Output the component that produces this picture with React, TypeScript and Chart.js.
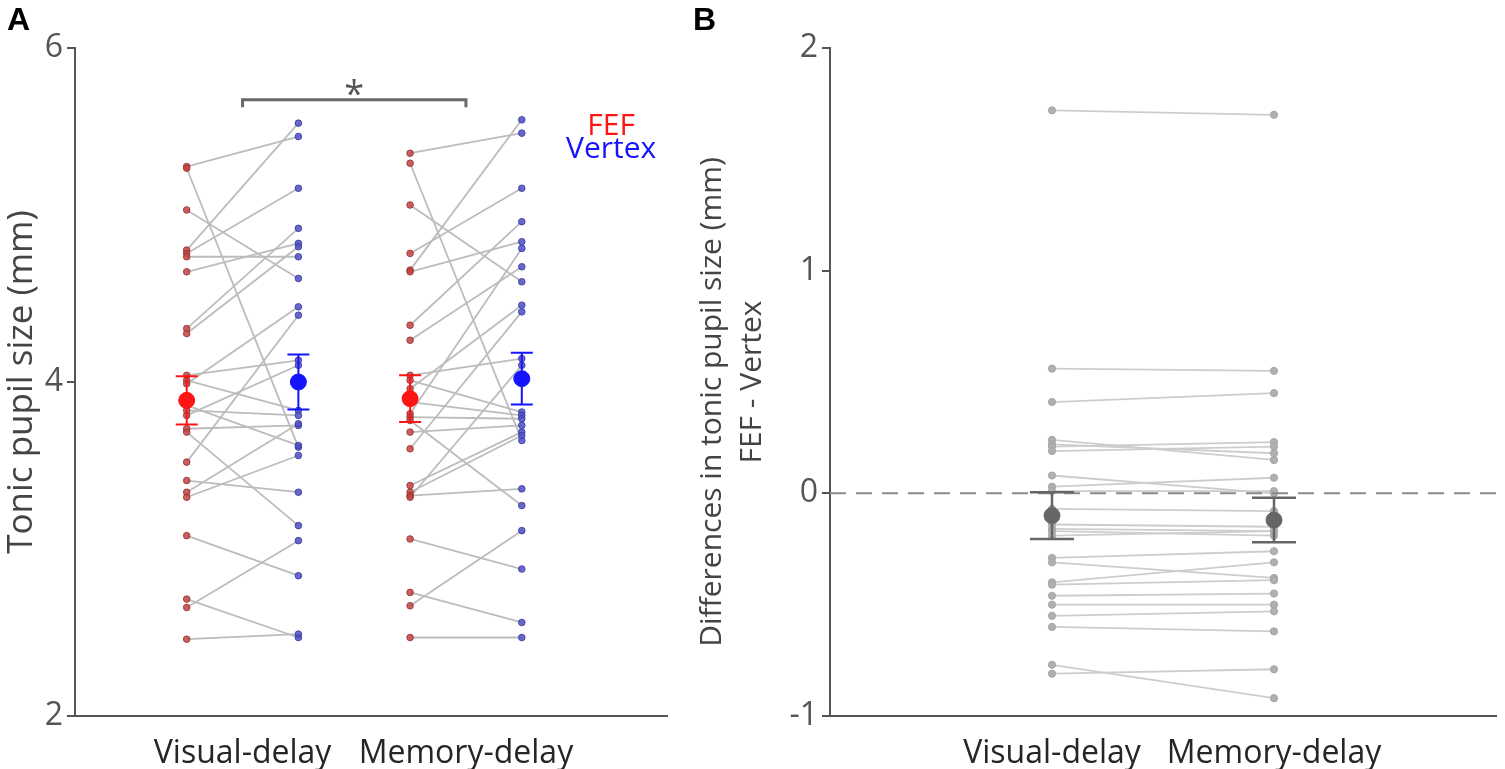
import React, { useEffect, useRef } from 'react';
import { Chart, registerables } from 'chart.js';
Chart.register(...registerables);

const FONT = '"Open Sans", "Noto Sans", sans-serif';

// ---------- Panel A data ----------
const conditions = ['Visual-delay', 'Memory-delay'];
const siteNames = ['FEF', 'Vertex'];
const fefVisual = [5.29, 5.28, 5.03, 4.79, 4.77, 4.75, 4.66, 4.32, 4.29, 4.04, 4.01, 3.99, 3.86, 3.83, 3.8, 3.72, 3.7, 3.52, 3.41, 3.34, 3.31, 3.08, 2.7, 2.65, 2.46];
const vertexVisual = [5.47, 3.61, 4.62, 5.55, 5.16, 4.75, 4.83, 4.92, 4.81, 4.13, 3.83, 4.45, 3.62, 3.8, 4.1, 3.74, 3.14, 4.4, 3.34, 3.75, 3.56, 2.84, 2.47, 3.05, 2.49];
const fefMemory = [5.37, 5.31, 5.06, 4.77, 4.67, 4.66, 4.34, 4.25, 4.04, 4.01, 3.96, 3.88, 3.81, 3.79, 3.77, 3.7, 3.6, 3.38, 3.34, 3.32, 3.31, 3.06, 2.74, 2.66, 2.47];
const vertexMemory = [5.49, 3.65, 4.6, 5.16, 5.57, 4.84, 4.96, 4.69, 4.14, 3.82, 4.46, 3.8, 4.8, 3.78, 3.26, 3.74, 4.42, 3.7, 3.68, 3.36, 4.1, 2.88, 2.56, 3.11, 2.47];
// order: FEF-visual, Vertex-visual, FEF-memory, Vertex-memory
const groupMeans = [3.89, 4.0, 3.9, 4.02];
const groupSems = [0.145, 0.165, 0.14, 0.155];
const panelATicks = [2, 4, 6];
const panelATitle = 'Tonic pupil size (mm)';
const sigMark = '*';
const sigLevel = 5.69;

// ---------- Panel B data ----------
const diffVisual = [1.72, 0.56, 0.41, 0.24, 0.22, 0.21, 0.19, 0.08, 0.03, 0.01, -0.07, -0.14, -0.16, -0.17, -0.19, -0.29, -0.31, -0.4, -0.41, -0.46, -0.5, -0.55, -0.6, -0.77, -0.81];
const diffMemory = [1.7, 0.55, 0.45, 0.15, 0.18, 0.23, 0.21, 0.0, 0.07, 0.01, -0.08, -0.15, -0.17, -0.19, -0.17, -0.26, -0.38, -0.31, -0.39, -0.45, -0.5, -0.53, -0.62, -0.92, -0.79];
const diffMeans = [-0.1, -0.12];
const diffSems = [0.105, 0.1];
const panelBTicks = [-1, 0, 1, 2];
const panelBTitle = ['Differences in tonic pupil size (mm)', 'FEF - Vertex'];

// ---------- layout / style config ----------
const groupX = [1, 2, 3, 4];
const condLabelX = [1.5, 3.5];
const diffX = [1, 2];
const RED = '#ff1414';
const BLUE = '#1414ff';
const AXIS = '#555555';

function errorBars(id: string, xs: number[], means: number[], sems: number[], colors: string[], cap: number, width: number) {
  return {
    id,
    afterDatasetsDraw(chart: any) {
      const { ctx, scales } = chart;
      const x = scales.x, y = scales.y;
      ctx.save();
      xs.forEach((xv, i) => {
        const px = x.getPixelForValue(xv);
        const top = y.getPixelForValue(means[i] + sems[i]);
        const bot = y.getPixelForValue(means[i] - sems[i]);
        ctx.strokeStyle = colors[i];
        ctx.lineWidth = width;
        ctx.beginPath();
        ctx.moveTo(px, top); ctx.lineTo(px, bot);
        ctx.moveTo(px - cap, top); ctx.lineTo(px + cap, top);
        ctx.moveTo(px - cap, bot); ctx.lineTo(px + cap, bot);
        ctx.stroke();
      });
      ctx.restore();
    },
  };
}

function pairLines(xa: number, xb: number, a: number[], b: number[], color: string, width: number) {
  return a.map((v, i) => ({
    type: 'line',
    data: [{ x: xa, y: v }, { x: xb, y: b[i] }],
    borderColor: color,
    borderWidth: width,
    pointRadius: 0,
    showLine: true,
    order: 10,
  }));
}

function yAxis(min: number, max: number, ticks: number[], width: number, title: any) {
  return {
    type: 'linear',
    min, max,
    afterBuildTicks: (s: any) => { s.ticks = ticks.map((v) => ({ value: v })); },
    afterFit: (s: any) => { s.width = width; },
    ticks: { font: { family: FONT, size: 32 }, color: '#555', padding: 4 },
    grid: { display: true, drawOnChartArea: false, drawTicks: true, tickLength: 8, color: AXIS, lineWidth: 2 },
    border: { display: true, color: AXIS, width: 2 },
    title,
  };
}

function xAxis(min: number, max: number, pos: number[], labels: string[]) {
  return {
    type: 'linear',
    min, max,
    afterBuildTicks: (s: any) => { s.ticks = pos.map((v) => ({ value: v })); },
    afterFit: (s: any) => { s.height = 53; },
    ticks: {
      font: { family: FONT, size: 32 }, color: '#262626', padding: 11,
      callback: (_v: any, i: number) => labels[i],
    },
    grid: { display: false },
    border: { display: true, color: AXIS, width: 2 },
  };
}

function buildA(): any {
  const datasets: any[] = [
    ...pairLines(groupX[0], groupX[1], fefVisual, vertexVisual, '#bcbcbc', 1.8),
    ...pairLines(groupX[2], groupX[3], fefMemory, vertexMemory, '#bcbcbc', 1.8),
    {
      label: siteNames[0],
      data: [...fefVisual.map((v) => ({ x: groupX[0], y: v })), ...fefMemory.map((v) => ({ x: groupX[2], y: v }))],
      pointRadius: 3.3, pointBackgroundColor: 'rgba(190,70,70,0.85)', pointBorderColor: 'rgba(160,50,50,0.9)', pointBorderWidth: 1,
      showLine: false, order: 3,
    },
    {
      label: siteNames[1],
      data: [...vertexVisual.map((v) => ({ x: groupX[1], y: v })), ...vertexMemory.map((v) => ({ x: groupX[3], y: v }))],
      pointRadius: 3.3, pointBackgroundColor: 'rgba(80,80,195,0.85)', pointBorderColor: 'rgba(60,60,170,0.9)', pointBorderWidth: 1,
      showLine: false, order: 3,
    },
    {
      label: 'means',
      data: groupMeans.map((m, i) => ({ x: groupX[i], y: m })),
      pointRadius: 8,
      pointBackgroundColor: [RED, BLUE, RED, BLUE],
      pointBorderColor: [RED, BLUE, RED, BLUE],
      showLine: false, order: 0,
    },
    {
      type: 'line',
      label: 'sig',
      data: [
        { x: condLabelX[0], y: sigLevel - 0.045 },
        { x: condLabelX[0], y: sigLevel },
        { x: condLabelX[1], y: sigLevel },
        { x: condLabelX[1], y: sigLevel - 0.045 },
      ],
      borderColor: '#6a6a6a', borderWidth: 3, pointRadius: 0, showLine: true, order: 1,
    },
  ];
  const textPlugin = {
    id: 'textA',
    afterDraw(chart: any) {
      const { ctx, scales } = chart;
      const x = scales.x, y = scales.y;
      ctx.save();
      ctx.textAlign = 'center';
      ctx.textBaseline = 'alphabetic';
      ctx.fillStyle = '#555';
      ctx.font = `36px ${FONT}`;
      ctx.fillText(sigMark, x.getPixelForValue((condLabelX[0] + condLabelX[1]) / 2), y.getPixelForValue(sigLevel) + 6);
      ctx.textBaseline = 'middle';
      ctx.font = `30px ${FONT}`;
      ctx.fillStyle = RED;
      ctx.fillText(siteNames[0], x.getPixelForValue(4.8), y.getPixelForValue(5.53));
      ctx.fillStyle = BLUE;
      ctx.fillText(siteNames[1], x.getPixelForValue(4.8), y.getPixelForValue(5.39));
      ctx.restore();
    },
  };
  return {
    type: 'scatter',
    data: { datasets },
    options: {
      animation: false,
      responsive: false,
      devicePixelRatio: 1,
      layout: { padding: { top: 48, right: 23, bottom: 0, left: 0 } },
      plugins: { legend: { display: false }, tooltip: { enabled: false } },
      scales: {
        x: xAxis(0, 5.3, condLabelX, conditions),
        y: yAxis(2, 6, panelATicks, 75, {
          display: true, text: panelATitle, color: '#444',
          font: { family: FONT, size: 35, lineHeight: 1.2 }, padding: { top: 1, bottom: 0 },
        }),
      },
    },
    plugins: [errorBars('errA', groupX, groupMeans, groupSems, [RED, BLUE, RED, BLUE], 11, 2), textPlugin],
  };
}

function buildB(): any {
  const datasets: any[] = [
    ...pairLines(diffX[0], diffX[1], diffVisual, diffMemory, '#cdcdcd', 1.8),
    {
      label: 'diff',
      data: [...diffVisual.map((v) => ({ x: diffX[0], y: v })), ...diffMemory.map((v) => ({ x: diffX[1], y: v }))],
      pointRadius: 3.6, pointBackgroundColor: '#b0b0b0', pointBorderColor: '#a5a5a5', pointBorderWidth: 1,
      showLine: false, order: 3,
    },
    {
      type: 'line',
      label: 'zero',
      data: [{ x: 0, y: 0 }, { x: 3, y: 0 }],
      borderColor: '#8a8a8a', borderWidth: 2, borderDash: [16, 10], pointRadius: 0, showLine: true, order: 2,
    },
    {
      label: 'means',
      data: diffMeans.map((m, i) => ({ x: diffX[i], y: m })),
      pointRadius: 8, pointBackgroundColor: '#666', pointBorderColor: '#666',
      showLine: false, order: 0,
    },
  ];
  const titlePlugin = {
    id: 'titleB',
    afterDraw(chart: any) {
      const { ctx, chartArea } = chart;
      const mid = (chartArea.top + chartArea.bottom) / 2;
      const centers = [{ x: 22, y: mid + 20 }, { x: 62, y: mid }];
      ctx.save();
      ctx.fillStyle = '#444';
      ctx.font = `30px ${FONT}`;
      ctx.textAlign = 'center';
      ctx.textBaseline = 'middle';
      panelBTitle.forEach((t, i) => {
        ctx.save();
        ctx.translate(centers[i].x, centers[i].y);
        ctx.rotate(-Math.PI / 2);
        ctx.fillText(t, 0, 0);
        ctx.restore();
      });
      ctx.restore();
    },
  };
  return {
    type: 'scatter',
    data: { datasets },
    options: {
      animation: false,
      responsive: false,
      devicePixelRatio: 1,
      layout: { padding: { top: 48, right: 3, bottom: 0, left: 0 } },
      plugins: { legend: { display: false }, tooltip: { enabled: false } },
      scales: {
        x: xAxis(0, 3, diffX, conditions),
        y: yAxis(-1, 2, panelBTicks, 140, { display: false }),
      },
    },
    plugins: [errorBars('errB', diffX, diffMeans, diffSems, ['#666', '#666'], 22, 2.5), titlePlugin],
  };
}

const labelStyle = (left: number): React.CSSProperties => ({
  position: 'absolute', left, top: 3, fontFamily: '"Liberation Sans", Arial, sans-serif',
  fontWeight: 700, fontSize: 32, lineHeight: '32px', color: '#000',
});

export default function App() {
  const refA = useRef<HTMLCanvasElement>(null);
  const refB = useRef<HTMLCanvasElement>(null);
  useEffect(() => {
    const a = new Chart(refA.current as HTMLCanvasElement, buildA());
    const b = new Chart(refB.current as HTMLCanvasElement, buildB());
    return () => { a.destroy(); b.destroy(); };
  }, []);
  return (
    <div style={{ position: 'absolute', left: 0, top: 0, width: 1505, height: 769, background: '#fff', overflow: 'hidden' }}>
      <canvas ref={refA} width={690} height={769} style={{ position: 'absolute', left: 0, top: 0, width: 690, height: 769 }} />
      <canvas ref={refB} width={815} height={769} style={{ position: 'absolute', left: 690, top: 0, width: 815, height: 769 }} />
      <div style={labelStyle(7)}>A</div>
      <div style={labelStyle(693)}>B</div>
    </div>
  );
}
